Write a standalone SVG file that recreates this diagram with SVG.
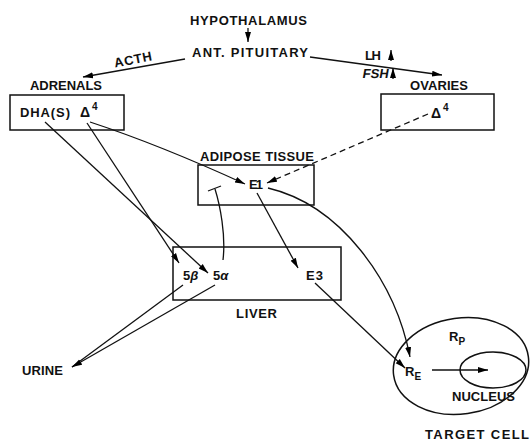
<svg xmlns="http://www.w3.org/2000/svg" width="531" height="441" viewBox="0 0 531 441">
<defs>
<marker id="ah" markerUnits="userSpaceOnUse" markerWidth="12" markerHeight="8" refX="10" refY="3.5" orient="auto">
<path d="M0,0.5 L10,3.5 L0,6.5 z" fill="#000"/>
</marker>
<style>
text{font-family:"Liberation Sans",Arial,sans-serif;font-weight:bold;font-size:13px;fill:#111;}
.sm{font-size:10px;}
.dl{font-size:14px;}
.box{fill:none;stroke:#111;stroke-width:1.5;}
.ln{fill:none;stroke:#111;stroke-width:1.3;}
.ar{fill:none;stroke:#111;stroke-width:1.3;marker-end:url(#ah);}
.dash{stroke-dasharray:6,4;}
</style>
</defs>
<rect width="531" height="441" fill="#fff"/>

<g id="connectors">
<path class="ar" d="M248,28 L248,42"/>
<path class="ar" d="M185,59 L83,77"/>
<path class="ar" d="M310,57 L442,75"/>
<path class="ar" d="M391,61 L391,50"/>
<path class="ar" d="M393,79 L393,68"/>
<path class="ar" d="M90,122 Q160,145 245,184"/>
<path class="ar" d="M45,122 L208,273"/>
<path class="ar" d="M87,123 L179,263"/>
<path class="ar dash" d="M428,114 L267,183"/>
<path class="ar" d="M257,193 L298,268"/>
<path class="ln" d="M223,260 C226,235 220,205 215,189"/>
<path class="ln" d="M208,191 L221,186"/>
<path class="ar" d="M268,188 C340,205 395,280 410,357"/>
<path class="ar" d="M315,283 L405,368"/>
<path class="ln" d="M183,285 L72,367"/>
<path class="ar" d="M215,285 L72,367"/>
<path class="ar" d="M432,370 L488,370"/>
</g>

<g id="hypothalamus"><text x="248.5" y="24.5" text-anchor="middle" textLength="117">HYPOTHALAMUS</text></g>
<g id="pituitary"><text x="250" y="57" text-anchor="middle" textLength="116">ANT. PITUITARY</text></g>
<g id="acth"><text x="133" y="64" text-anchor="middle" transform="rotate(-11 133 60)" textLength="38">ACTH</text></g>
<g id="lh"><text x="365" y="60" textLength="16">LH</text></g>
<g id="fsh"><text x="362" y="78" textLength="26" transform="skewX(-10) translate(13.8 0)">FSH</text></g>

<g id="adrenals">
<text x="30" y="90" textLength="72">ADRENALS</text>
<rect class="box" x="10" y="95" width="114" height="35"/>
<text x="20" y="117" textLength="50">DHA(S)</text>
<text class="dl" x="80" y="117">Δ</text><text class="sm" x="92" y="110">4</text>
</g>

<g id="ovaries">
<text x="410" y="90" textLength="58">OVARIES</text>
<rect class="box" x="381" y="94" width="113" height="36"/>
<text class="dl" x="431" y="118">Δ</text><text class="sm" x="443" y="111">4</text>
</g>

<g id="adipose">
<text x="200" y="161" textLength="114">ADIPOSE TISSUE</text>
<rect class="box" x="198" y="165" width="116" height="40"/>
<text x="249" y="189" textLength="14">E1</text>
</g>

<g id="liver">
<rect class="box" x="173" y="247" width="168" height="53"/>
<text x="183" y="280">5<tspan font-style="italic">β</tspan></text>
<text x="213" y="280">5<tspan font-style="italic">α</tspan></text>
<text x="306" y="280" textLength="17">E3</text>
<text x="236" y="318" textLength="41">LIVER</text>
</g>

<g id="urine"><text x="22" y="375" textLength="41">URINE</text></g>

<g id="target-cell">
<ellipse class="box" cx="461" cy="366" rx="68" ry="48" transform="rotate(-8 461 366)"/>
<text x="449" y="341">R<tspan class="sm" dy="4">P</tspan></text>
<text x="405" y="376">R<tspan class="sm" dy="4">E</tspan></text>
<text x="425" y="439" textLength="104">TARGET CELL</text>
</g>
<g id="nucleus">
<ellipse class="box" cx="493" cy="370" rx="33" ry="18"/>
<text x="452" y="401" textLength="63">NUCLEUS</text>
</g>
</svg>
